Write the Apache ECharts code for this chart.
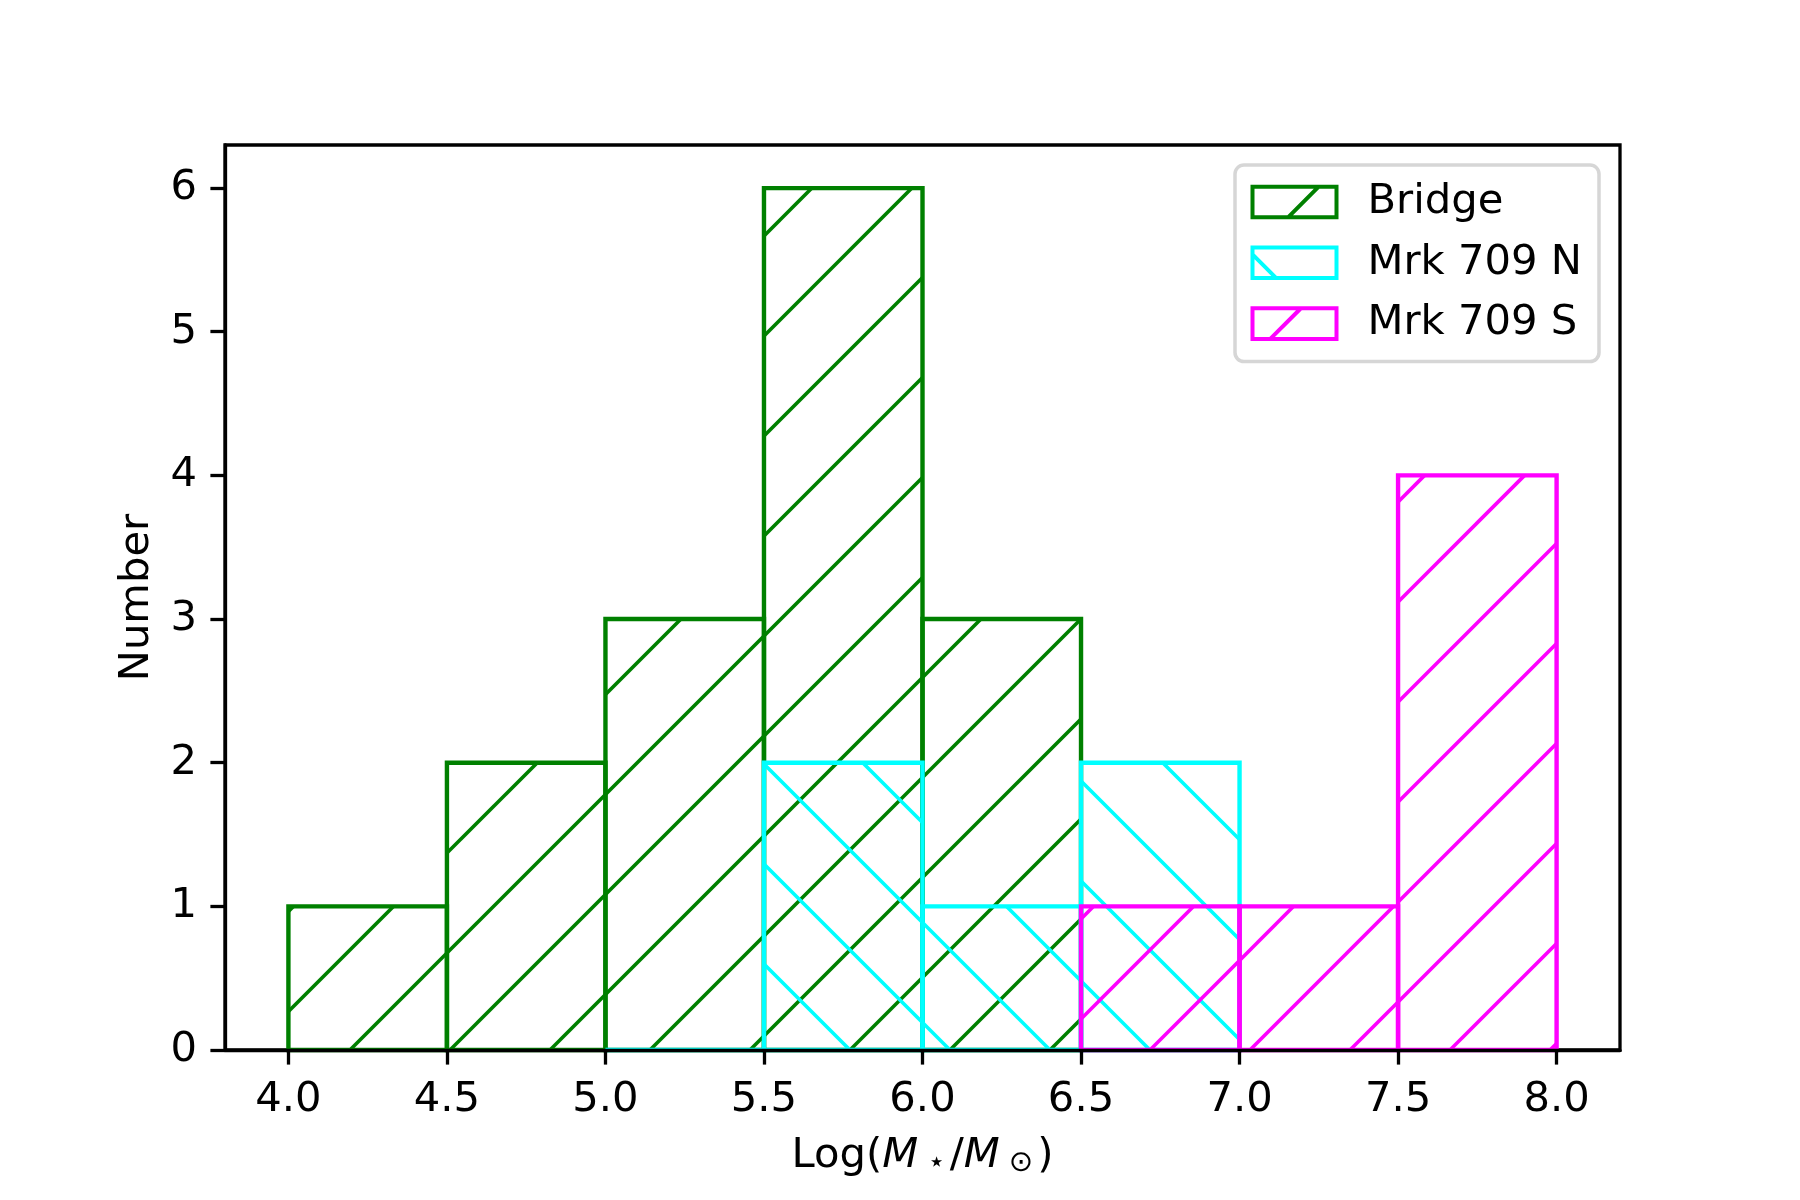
<!DOCTYPE html>
<html><head><meta charset="utf-8">
<script src="https://cdn.jsdelivr.net/npm/echarts@6/dist/echarts.min.js"></script>
<style>html,body{margin:0;padding:0;background:#fff}#c{width:1800px;height:1200px}</style>
</head><body><div id="c"></div>
<script>
// ---- data ----
const binWidth = 0.5;
const bridgeBins = [4.0, 4.5, 5.0, 5.5, 6.0];
const bridgeCounts = [1, 2, 3, 6, 3];
const northBins = [5.0, 5.5, 6.0, 6.5];
const northCounts = [0, 2, 1, 2];
const southBins = [6.5, 7.0, 7.5];
const southCounts = [1, 1, 4];
const xTicks = [4.0, 4.5, 5.0, 5.5, 6.0, 6.5, 7.0, 7.5, 8.0];
const yTicks = [0, 1, 2, 3, 4, 5, 6];
const seriesNames = ['Bridge', 'Mrk 709 N', 'Mrk 709 S'];

// ---- styles ----
const seriesColors = ['#008000', '#00ffff', '#ff00ff'];
const hatchDirs = ['/', '\\', '/'];
const legendIcons = [
  'path://M0,0L85,0L85,31L0,31ZM36,31L67,0',
  'path://M0,0L85,0L85,31L0,31ZM0,7L24,31',
  'path://M0,0L85,0L85,31L0,31ZM18,31L49,0'
];
const FONT = 'DejaVu Sans';
const FS = 41.7;

function toData(bins, counts) { return bins.map((b, i) => [b, b + binWidth, counts[i]]); }

function makeRender(color, dir) {
  return function (params, api) {
    const x0 = api.value(0), x1 = api.value(1), h = api.value(2);
    const pb = api.coord([x0, 0]), pt = api.coord([x1, h]);
    const xl = pb[0], yb = pb[1], xr = pt[0], yt = pt[1];
    const S = 100;
    const children = [];
    const hs = { stroke: color, lineWidth: 3.6, lineCap: 'butt' };
    if (yb - yt > 0.5) {
      if (dir === '/') {
        const cmin = xl + yt, cmax = xr + yb;
        for (let c = Math.ceil(cmin / S) * S; c <= cmax; c += S) {
          const xa = Math.max(xl, c - yb), xb = Math.min(xr, c - yt);
          if (xb > xa) children.push({ type: 'line', shape: { x1: xa, y1: c - xa, x2: xb, y2: c - xb }, style: hs });
        }
      } else {
        const cmin = xl - yb, cmax = xr - yt;
        for (let c = Math.ceil(cmin / S) * S; c <= cmax; c += S) {
          const xa = Math.max(xl, c + yt), xb = Math.min(xr, c + yb);
          if (xb > xa) children.push({ type: 'line', shape: { x1: xa, y1: xa - c, x2: xb, y2: xb - c }, style: hs });
        }
      }
    }
    children.push({
      type: 'polygon',
      shape: { points: [[xl, yb], [xl, yt], [xr, yt], [xr, yb]] },
      style: { fill: 'none', stroke: color, lineWidth: 4.4, lineJoin: 'miter' }
    });
    return { type: 'group', children };
  };
}

const allData = [toData(bridgeBins, bridgeCounts), toData(northBins, northCounts), toData(southBins, southCounts)];

const chart = echarts.init(document.getElementById('c'), null, { renderer: 'canvas' });
chart.setOption({
  animation: false,
  backgroundColor: '#ffffff',
  textStyle: { fontFamily: FONT },
  grid: { left: 225, top: 145, width: 1395, height: 905, show: true, borderColor: '#000', borderWidth: 3.3, backgroundColor: 'transparent' },
  xAxis: {
    type: 'value', min: 3.8, max: 8.2, z: 5,
    name: '{a|Log(}{i|M}{s| ⋆}{a|/}{i|M}{s| ⊙}{a|)}',
    nameLocation: 'middle', nameGap: 85,
    nameTextStyle: {
      rich: {
        a: { fontFamily: FONT, fontSize: FS, color: '#000' },
        i: { fontFamily: FONT, fontSize: FS, fontStyle: 'italic', color: '#000' },
        s: { fontFamily: FONT, fontSize: 29, color: '#000', padding: [14, 4, 0, 0] }
      }
    },
    axisLine: { show: true, onZero: false, lineStyle: { color: '#000', width: 3.3 } },
    axisTick: { show: true, length: 14.6, inside: false, lineStyle: { color: '#000', width: 3.3 }, customValues: xTicks },
    axisLabel: { fontFamily: FONT, fontSize: FS, color: '#000', margin: 29, customValues: xTicks, formatter: v => Number(v).toFixed(1) },
    splitLine: { show: false }
  },
  yAxis: {
    type: 'value', min: 0, max: 6.3, z: 5,
    name: 'Number', nameLocation: 'middle', nameGap: 67, nameRotate: 90,
    nameTextStyle: { fontFamily: FONT, fontSize: FS, color: '#000' },
    axisLine: { show: true, onZero: false, lineStyle: { color: '#000', width: 3.3 } },
    axisTick: { show: true, length: 14.6, inside: false, lineStyle: { color: '#000', width: 3.3 }, customValues: yTicks },
    axisLabel: { fontFamily: FONT, fontSize: FS, color: '#000', margin: 28, customValues: yTicks, formatter: v => String(Math.round(v)) },
    splitLine: { show: false }
  },
  legend: {
    show: true, orient: 'vertical', left: 1235, top: 165,
    padding: [13, 17, 14, 15],
    itemWidth: 84, itemHeight: 31, itemGap: 12.8,
    backgroundColor: '#ffffff', borderColor: '#d6d6d6', borderWidth: 3.5, borderRadius: 9,
    textStyle: { fontFamily: FONT, fontSize: FS, color: '#000', lineHeight: 48, padding: [0, 0, 0, 26] },
    data: seriesNames.map((n, i) => ({
      name: n, icon: legendIcons[i],
      itemStyle: { color: 'none', borderColor: seriesColors[i], borderWidth: 4 }
    }))
  },
  series: seriesNames.map((n, i) => ({
    type: 'custom', name: n,
    data: allData[i],
    encode: { x: [0, 1], y: 2 },
    itemStyle: { color: 'none', borderColor: seriesColors[i], borderWidth: 4 },
    renderItem: makeRender(seriesColors[i], hatchDirs[i]),
    z: 2 + i
  }))
});
</script>
</body></html>
